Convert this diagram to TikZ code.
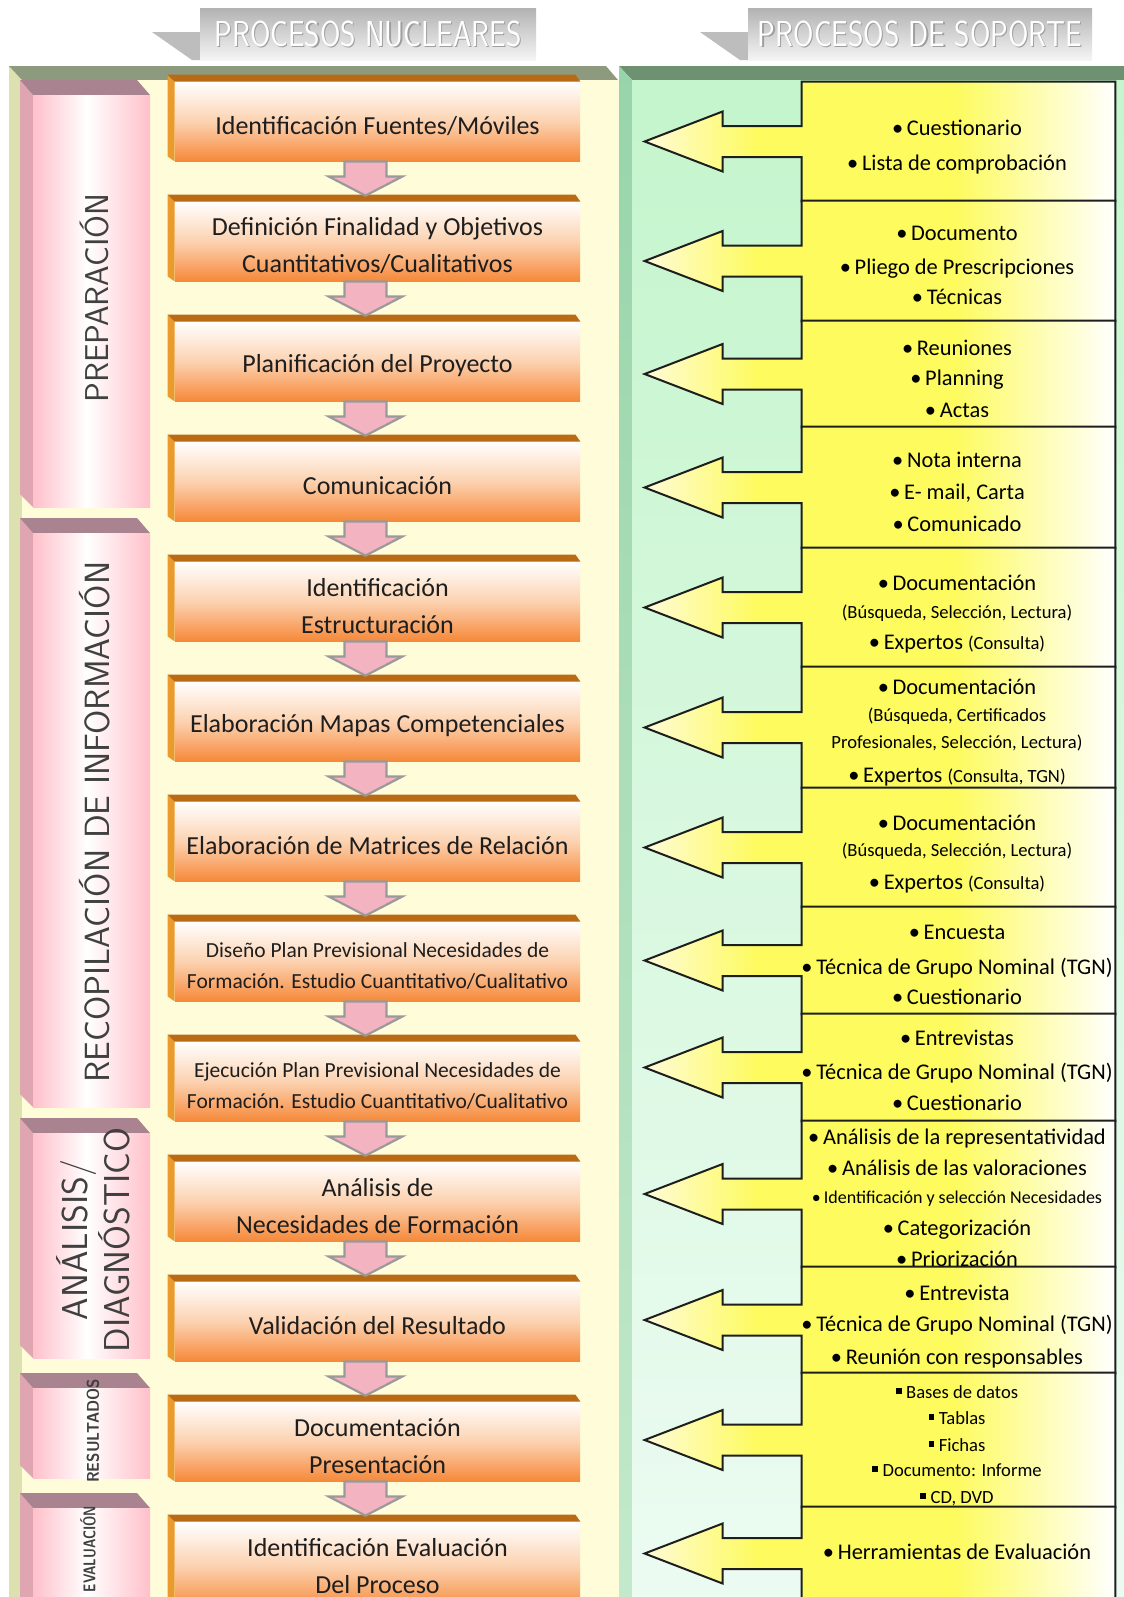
\documentclass[tikz,border=0pt]{standalone}
\usepackage{fontspec}
\usepackage{graphicx}
\setmainfont{Carlito}
\usetikzlibrary{calc}

% palette
\definecolor{creamBg}{HTML}{FFFCDA}
\definecolor{creamSide}{HTML}{DDE1B0}
\definecolor{oliveBar}{HTML}{8E9A7E}
\definecolor{greenBar}{HTML}{6E9172}
\definecolor{greenTop}{HTML}{C4F5CC}
\definecolor{greenBot}{HTML}{ECFBF2}
\definecolor{greenSideTop}{HTML}{98D4AA}
\definecolor{greenSideBot}{HTML}{C2E9CB}
\definecolor{tabTop}{HTML}{A9838F}
\definecolor{tabSide}{HTML}{DFA5B1}
\definecolor{tabPink}{HTML}{FFC0CA}
\definecolor{tabText}{HTML}{404040}
\definecolor{boxTop}{HTML}{B86A14}
\definecolor{boxSide}{HTML}{EB9A2E}
\definecolor{boxOrange}{HTML}{F6893A}
\definecolor{boxPeach}{HTML}{FCD2B0}
\definecolor{flowPink}{HTML}{F4B3C0}
\definecolor{flowEdge}{HTML}{9A9A9A}
\definecolor{supPale}{HTML}{FFFBD8}
\definecolor{supYellow}{HTML}{FDFB5E}
\definecolor{inkDark}{HTML}{1E1E1E}
\definecolor{bannerWedge}{HTML}{BDBDBD}

\pgfdeclarehorizontalshading{supshade}{100bp}{%
  color(0bp)=(supPale); color(25bp)=(supPale); color(37bp)=(supYellow);
  color(58bp)=(supYellow); color(75bp)=(white); color(100bp)=(white)}
\pgfdeclarehorizontalshading{tabshade}{100bp}{%
  color(0bp)=(tabPink); color(25bp)=(tabPink); color(48bp)=(white);
  color(75bp)=(tabPink); color(100bp)=(tabPink)}

\newcommand{\smallfnt}{\fontsize{9.3}{11}\selectfont}
\newcommand{\sqbul}{\rule[0.22em]{0.3em}{0.3em}\hspace{0.25em}}

% support box: named frame plus the left-pointing block arrow
\newcommand{\supbox}[3]{%
  \node[supnode, minimum height={(#3-#2)*0.5pt}] (#1) at (958.5,{(#2+#3)/2}) {};
  \path[shade, shading=supshade, draw=inkDark, line width=1pt, line join=miter]
    (#1.north west) -- (#1.north east) -- (#1.south east) -- (#1.south west)
    -- ($(#1.west)+(0,15.5)$) -- ($(#1.west)+(-79,15.5)$) -- ($(#1.west)+(-79,30)$)
    -- ($(#1.west)+(-157,0)$) -- ($(#1.west)+(-79,-30)$) -- ($(#1.west)+(-79,-15.5)$)
    -- ($(#1.west)+(0,-15.5)$) -- cycle;}
\newcommand{\supline}[3]{\node[suptext] (#1) at (957,#2) {#3};}
% text of a core box, set a little below the box centre
\newcommand{\proclabel}[3][]{\node[proctext,#1] (#2t) at ($(#2.center)+(0,4.5)$) {#3};}

\begin{document}
\begin{tikzpicture}[x=0.5pt,y=-0.5pt,
  procbox/.style={rectangle, minimum width=202.5pt, minimum height=39.5pt, inner sep=0pt,
    top color=white, bottom color=boxOrange, middle color=boxPeach},
  proctext/.style={inner sep=0pt, align=center, text=inkDark, font=\fontsize{13}{18.5}\selectfont},
  procsmall/.style={font=\fontsize{10.75}{15.5}\selectfont},
  flowarrow/.style={fill=flowPink, draw=flowEdge, line width=1.1pt, line join=miter},
  supnode/.style={rectangle, minimum width=156.5pt, inner sep=0pt},
  suptext/.style={anchor=base, inner sep=0pt, text=black, font=\fontsize{11.2}{13}\selectfont},
  tablabel/.style={rotate=90, inner sep=0pt, text=tabText, align=center},
  bannertext/.style={inner sep=0pt, font=\sffamily\fontsize{18}{20}\selectfont},
]
\useasboundingbox (0,0) rectangle (1124,1597);
\fill[white] (0,0) rectangle (1124,1597);

% ---------- headers ----------
\fill[bannerWedge] (152,32) -- (200,32) -- (200,60) -- (192,60) -- cycle;
\shade[top color=gray!60, bottom color=gray!8] (200,8) rectangle (536,60);
\node[bannertext, text=gray!75] (h1s) at (369.2,35.2) {\scalebox{0.82}[1]{PROCESOS NUCLEARES}};
\node[bannertext, text=white] (h1) at (368,34) {\scalebox{0.82}[1]{PROCESOS NUCLEARES}};

\fill[bannerWedge] (700,32) -- (748,32) -- (748,60) -- (740,60) -- cycle;
\shade[top color=gray!60, bottom color=gray!8] (748,8) rectangle (1092,60);
\node[bannertext, text=gray!75] (h2s) at (921.2,35.2) {\scalebox{0.82}[1]{PROCESOS DE SOPORTE}};
\node[bannertext, text=white] (h2) at (920,34) {\scalebox{0.82}[1]{PROCESOS DE SOPORTE}};

% ---------- left panel ----------
\fill[creamSide] (9,66) -- (22,80) -- (22,1597) -- (9,1597) -- cycle;
\fill[oliveBar] (9,66) -- (606,66) -- (618,80) -- (22,80) -- cycle;
\fill[creamBg] (22,80) rectangle (619,1597);

% ---------- right panel ----------
\fill[greenBar] (619,66) -- (1124,66) -- (1124,80) -- (632,80) -- cycle;
\shade[top color=greenSideTop, bottom color=greenSideBot] (619,66) -- (632,80) -- (632,1597) -- (619,1597) -- cycle;
\shade[top color=greenTop, bottom color=greenBot] (632,80) rectangle (1124,1597);

% ---------- phase tabs ----------
\foreach \T/\B in {80/507,518/1107,1118/1358,1373/1478,1493/1620}{
  \fill[tabSide] (20,\T) -- (33,\T+15) -- (33,\B) -- (20,\B-13) -- cycle;
  \fill[tabTop] (20,\T) -- (137,\T) -- (150,\T+15) -- (33,\T+15) -- cycle;
  \shade[shading=tabshade] (33,\T+15) rectangle (150,\B);
}
\node[tablabel, font=\sffamily\fontsize{16.5}{19}\selectfont] (t1) at (95,298) {PREPARACIÓN};
\node[tablabel, font=\sffamily\fontsize{17.5}{20}\selectfont] (t2) at (95,822) {RECOPILACIÓN DE INFORMACIÓN};
\node[tablabel, font=\sffamily\fontsize{18}{19}\selectfont] (t3) at (93,1240) {ANÁLISIS/\\DIAGNÓSTICO};
\node[tablabel, font=\sffamily\bfseries\fontsize{8.5}{10}\selectfont] (t4) at (93,1431) {\scalebox{0.9}[1]{RESULTADOS}};
\node[tablabel, font=\sffamily\bfseries\fontsize{8.5}{10}\selectfont] (t5) at (88,1549) {\scalebox{0.76}[1]{EVALUACIÓN}};

% ---------- core process boxes ----------
\foreach \i/\y in {1/121.5,2/241.5,3/361.5,4/481.5,5/601.5,6/721.5,7/841.5,8/961.5,9/1081.5,10/1201.5,11/1321.5,12/1441.5}
  \node[procbox] (p\i) at (377.5,\y) {};
\node[procbox, minimum height=44pt] (p13) at (377.5,1566) {};

\foreach \i in {1,...,13}{
  \fill[boxSide] ($(p\i.north west)+(-7,-7)$) -- (p\i.north west) -- (p\i.south west) -- ($(p\i.south west)+(-7,-5)$) -- cycle;
  \fill[boxTop] ($(p\i.north west)+(-7,-7)$) -- ($(p\i.north east)+(-5,-7)$) -- (p\i.north east) -- (p\i.north west) -- cycle;
}

\proclabel{p1}{Identificación Fuentes/Móviles}
\proclabel{p2}{Definición Finalidad y Objetivos\\Cuantitativos/Cualitativos}
\proclabel{p3}{Planificación del Proyecto}
\proclabel{p4}{Comunicación}
\proclabel{p5}{Identificación\\Estructuración}
\proclabel{p6}{Elaboración Mapas Competenciales}
\proclabel{p7}{Elaboración de Matrices de Relación}
\proclabel[procsmall]{p8}{Diseño Plan Previsional Necesidades de\\Formación. Estudio Cuantitativo/Cualitativo}
\proclabel[procsmall]{p9}{Ejecución Plan Previsional Necesidades de\\Formación. Estudio Cuantitativo/Cualitativo}
\proclabel{p10}{Análisis de\\Necesidades de Formación}
\proclabel{p11}{Validación del Resultado}
\proclabel{p12}{Documentación\\Presentación}
\node[proctext] (p13t) at (377.5,1566) {Identificación Evaluación\\Del Proceso};

% flow arrows between consecutive core boxes
\foreach \i/\j in {1/2,2/3,3/4,4/5,5/6,6/7,7/8,8/9,9/10,10/11,11/12,12/13}{
  \path[flowarrow] let \p1=($(p\i.south)+(-12,0)$), \p2=($(p\j.north)+(-12,-6)$) in
    (\x1-10.5pt,\y1) -- (\x1+10.5pt,\y1) -- (\x1+10.5pt,\y1-7.5pt) -- (\x1+18.5pt,\y1-7.5pt)
    -- (\x2,\y2) -- (\x1-18.5pt,\y1-7.5pt) -- (\x1-10.5pt,\y1-7.5pt) -- cycle;
}

% ---------- support boxes ----------
\supbox{s1}{82}{201}
\supbox{s2}{201}{321}
\supbox{s3}{321}{427}
\supbox{s4}{427}{548}
\supbox{s5}{548}{667}
\supbox{s6}{667}{788}
\supbox{s7}{788}{907}
\supbox{s8}{907}{1014}
\supbox{s9}{1014}{1121}
\supbox{s10}{1121}{1267}
\supbox{s11}{1267}{1373}
\supbox{s12}{1373}{1507}
\supbox{s13}{1507}{1600}

\supline{s1a}{135}{•\,Cuestionario}
\supline{s1b}{170}{•\,Lista de comprobación}

\supline{s2a}{240}{•\,Documento}
\supline{s2b}{274}{•\,Pliego de Prescripciones}
\supline{s2c}{304}{•\,Técnicas}

\supline{s3a}{355}{•\,Reuniones}
\supline{s3b}{385}{•\,Planning}
\supline{s3c}{417}{•\,Actas}

\supline{s4a}{467}{•\,Nota interna}
\supline{s4b}{499}{•\,E- mail, Carta}
\supline{s4c}{531}{•\,Comunicado}

\supline{s5a}{590}{•\,Documentación}
\supline{s5b}{618}{\smallfnt (Búsqueda, Selección, Lectura)}
\supline{s5c}{649}{•\,Expertos {\smallfnt (Consulta)}}

\supline{s6a}{694}{•\,Documentación}
\supline{s6b}{721}{\smallfnt (Búsqueda, Certificados}
\supline{s6c}{748}{\smallfnt Profesionales, Selección, Lectura)}
\supline{s6d}{782}{•\,Expertos {\smallfnt (Consulta, TGN)}}

\supline{s7a}{830}{•\,Documentación}
\supline{s7b}{856}{\smallfnt (Búsqueda, Selección, Lectura)}
\supline{s7c}{889}{•\,Expertos {\smallfnt (Consulta)}}

\supline{s8a}{939}{•\,Encuesta}
\supline{s8b}{974}{•\,Técnica de Grupo Nominal (TGN)}
\supline{s8c}{1004}{•\,Cuestionario}

\supline{s9a}{1045}{•\,Entrevistas}
\supline{s9b}{1079}{•\,Técnica de Grupo Nominal (TGN)}
\supline{s9c}{1110}{•\,Cuestionario}

\supline{s10a}{1144}{•\,Análisis de la representatividad}
\supline{s10b}{1175}{•\,Análisis de las valoraciones}
\supline{s10c}{1203}{\fontsize{9}{11}\selectfont •\,Identificación y selección Necesidades}
\supline{s10d}{1235}{•\,Categorización}
\supline{s10e}{1266}{•\,Priorización}

\supline{s11a}{1300}{•\,Entrevista}
\supline{s11b}{1331}{•\,Técnica de Grupo Nominal (TGN)}
\supline{s11c}{1364}{•\,Reunión con responsables}

\supline{s12a}{1398}{\smallfnt\sqbul Bases de datos}
\supline{s12b}{1424}{\smallfnt\sqbul Tablas}
\supline{s12c}{1451}{\smallfnt\sqbul Fichas}
\supline{s12d}{1476}{\smallfnt\sqbul Documento: Informe}
\supline{s12e}{1503}{\smallfnt\sqbul CD, DVD}

\supline{s13a}{1559}{•\,Herramientas de Evaluación}
\end{tikzpicture}
\end{document}
